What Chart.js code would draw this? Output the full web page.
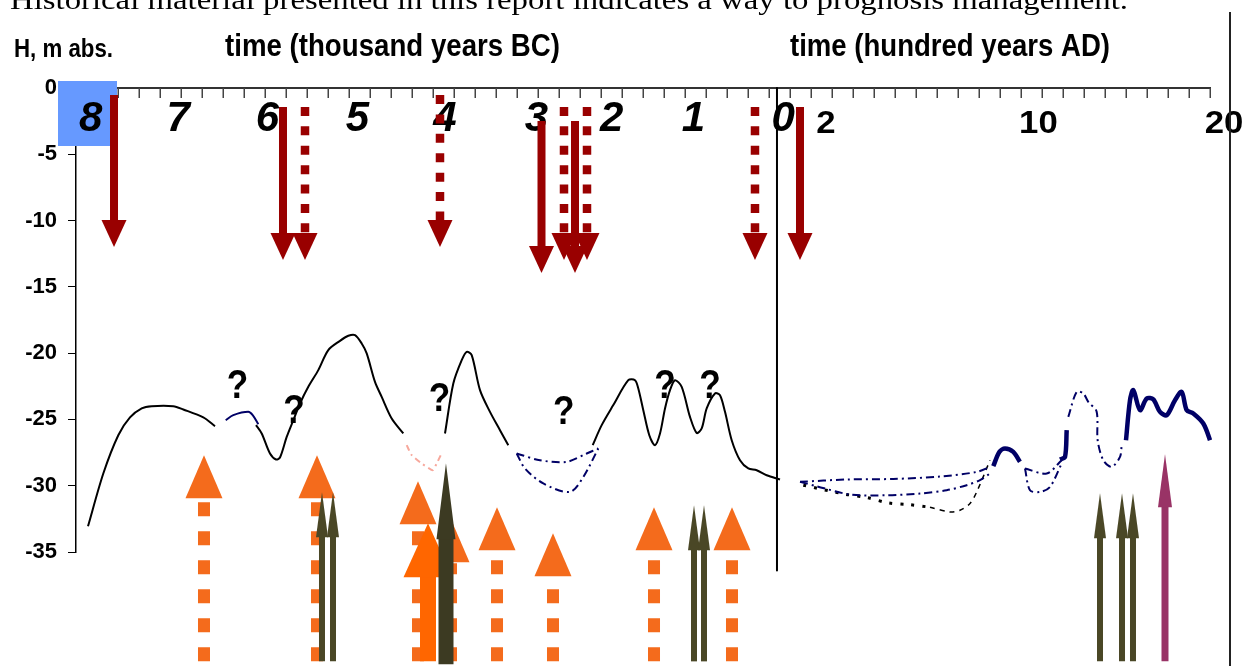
<!DOCTYPE html>
<html><head><meta charset="utf-8">
<script src="https://cdn.jsdelivr.net/npm/chart.js@4.4.0/dist/chart.umd.min.js"></script>
<style>html,body{margin:0;padding:0;background:#fff}#wrap{position:relative;width:1251px;height:666px}</style>
</head><body><div id="wrap"><canvas id="c"></canvas></div>
<script>
// ---------------- data ----------------
const bcLabels = ['8','7','6','5','4','3','2','1','0'];
const bcLabelX = [0.70,4.87,9.12,13.40,17.57,21.92,25.51,29.40,33.68];
const adLabels = ['2','10','20'];
const adLabelX = [35.71,45.83,54.67];
const xMin = 0, xMax = 54;
const yMin = -35, yMax = 0, yStep = 5;

// sea-level curves [x, H]
const blackA = [[0.571,-33.06],[1.300,-29.08],[2.014,-26.19],[2.571,-24.85],[3.129,-24.17],[3.605,-24.00],[4.633,-24.00],[5.110,-24.25],[6.062,-24.85],[6.619,-25.51]];
const navyA = [[7.129,-25.06],[7.490,-24.68],[8.205,-24.43],[8.414,-24.68],[8.681,-25.36]];
const blackB = [[8.571,-25.43],[8.843,-26.06],[9.238,-27.57],[9.524,-28.02],[9.714,-27.87],[10.033,-26.32],[10.348,-25.06],[10.667,-23.80],[11.062,-22.54],[11.538,-21.28],[12.014,-19.77],[12.571,-19.07],[12.967,-18.69],[13.286,-18.64],[13.605,-19.27],[13.843,-20.02],[14.238,-22.17],[14.557,-23.30],[15.033,-24.93],[15.586,-26.06]];
const pinkV = [[15.748,-26.94],[15.986,-27.70],[16.462,-28.32],[16.986,-28.83],[17.176,-28.32],[17.367,-27.70]];
const blackC = [[17.571,-26.06],[17.967,-22.29],[18.367,-20.53],[18.605,-19.90],[18.843,-20.15],[19.238,-22.79],[19.714,-24.43],[20.190,-25.81],[20.586,-26.94]];
const lensTop = [[20.986,-27.57],[22.095,-28.08],[23.367,-28.20],[24.319,-27.57],[24.871,-27.19]];
const lensBot = [[20.986,-27.57],[21.381,-28.70],[22.252,-29.83],[23.524,-30.47],[24.157,-29.34],[24.871,-27.19]];
const blackD = [[24.605,-26.94],[25.033,-25.43],[25.586,-23.92],[26.300,-22.04],[26.619,-22.04],[26.776,-22.66],[27.014,-24.30],[27.300,-26.19],[27.571,-26.94],[27.810,-26.06],[28.048,-24.17],[28.286,-22.79],[28.524,-22.04],[28.843,-22.54],[29.238,-24.81],[29.557,-26.02],[29.795,-25.68],[30.033,-24.17],[30.429,-23.04],[30.667,-23.17],[30.905,-24.43],[31.224,-26.57],[31.619,-28.08],[32.014,-28.70],[32.414,-28.83],[32.890,-29.21],[33.524,-29.53]];
const adUpper = [[34.476,-29.71],[36.700,-29.53],[38.919,-29.49],[41.143,-29.31],[42.890,-28.96],[43.524,-28.58]];
const adLower = [[34.476,-29.71],[35.271,-30.04],[36.857,-30.66],[38.605,-30.72],[40.190,-30.59],[41.462,-30.34],[42.414,-29.96],[43.048,-29.58],[43.524,-29.08]];
const adDots = [[34.633,-29.96],[36.619,-30.64],[37.652,-30.89],[38.681,-31.30],[39.633,-31.42],[40.667,-31.62]];
const adDash = [[40.667,-31.62],[41.619,-31.98],[42.095,-31.85],[42.571,-31.34],[42.890,-30.47],[43.524,-28.08]];
const navyThick1 = [[43.681,-28.53],[43.967,-27.45],[44.238,-27.19],[44.633,-27.45],[44.952,-28.20]];
const lens2Bot = [[45.190,-28.70],[45.429,-30.34],[45.905,-30.47],[46.381,-30.09],[46.938,-28.32]];
const lens2Top = [[45.190,-28.70],[46.224,-29.08],[46.938,-28.08]];
const navyThick2 = [[46.857,-28.02],[47.095,-27.83],[47.176,-25.81]];
const adPeak = [[47.252,-24.81],[47.652,-22.92],[47.967,-23.04],[48.205,-23.68],[48.60,-24.40],[48.65,-26.57],[48.919,-28.08],[49.319,-28.58],[49.714,-27.83],[49.795,-26.94]];
const navyThick3 = [[50.0,-26.57],[50.190,-23.55],[50.348,-22.79],[50.667,-24.30],[50.986,-23.42],[51.300,-23.49],[51.619,-24.43],[51.938,-24.68],[52.333,-23.55],[52.652,-22.92],[52.890,-24.30],[53.205,-24.55],[53.681,-25.31],[54.0,-26.57],[54.238,-27.83]];
const zeroLine = [[33.38,0],[33.38,-36.4]];

// question marks [x, H]
const qX = [7.69,10.38,17.31,23.23,28.05,30.19];
const qY = [-23.42,-25.28,-24.35,-25.36,-23.42,-23.42];

// down arrows (red)
const downSolidX = [1.81,9.857,22.167,23.762,34.476];
const downSolidTop = [-0.53,-1.43,-2.49,-2.49,-1.43];
const downSolidTip = [-12.0,-12.98,-13.96,-13.96,-12.98];
const downDotX = [10.905,17.333,23.238,24.333,32.333];
const downDotTop = [-1.43,-0.53,-1.43,-1.43,-1.43];
const downDotTip = [-12.98,-12.0,-12.98,-12.98,-12.98];
// up arrows
const upBottom = -43.25;
const orangeDotX = [6.095,11.476,16.286,17.857,20.048,22.714,27.524,31.238];
const orangeDotTip = [-27.70,-27.70,-29.66,-32.53,-31.62,-33.58,-31.62,-31.62];
const bigOrangeX = [16.762], bigOrangeTip = [-32.83];
const oliveX = [11.714,12.238,29.429,29.905,48.762,49.81,50.333];
const oliveTip = [-30.49,-30.49,-31.47,-31.47,-30.57,-30.57,-30.57];
const bigOliveX = [17.619], bigOliveTip = [-28.30], bigOliveBottom = -43.47;
const pinkX = [51.857], pinkTip = [-27.62];

// ---------------- helpers ----------------
const SANS = '"Liberation Sans", Arial, sans-serif';
function pts(a){return a.map(p=>({x:p[0],y:p[1]}));}
function ds(a,color,w,dash,extra){return Object.assign({data:pts(a),borderColor:color,borderWidth:w,borderDash:dash||[],pointRadius:0,tension:0.3,fill:false,clip:false,borderCapStyle:'butt',borderJoinStyle:'round'},extra||{});}
function txt(ctx,s,x,y,font,o){o=o||{};ctx.save();ctx.font=font;ctx.fillStyle=o.color||'#000';ctx.textBaseline='alphabetic';
  const w=ctx.measureText(s).width;const sx=o.width?o.width/w:(o.sx||1);ctx.translate(x,y);ctx.scale(sx,1);
  const al=o.align||'left';const dx=al==='center'?-w/2:al==='right'?-w:0;ctx.fillText(s,dx,0);ctx.restore();}
function tri(ctx,x,ya,yb,w,c){ctx.beginPath();ctx.moveTo(x,ya);ctx.lineTo(x-w/2,yb);ctx.lineTo(x+w/2,yb);ctx.closePath();ctx.fillStyle=c;ctx.fill();}
function shaft(ctx,x,y1,y2,w,c,dash,cap){ctx.save();ctx.beginPath();ctx.strokeStyle=c;ctx.lineWidth=w;ctx.setLineDash(dash||[]);ctx.lineCap=cap||'butt';ctx.moveTo(x,y1);ctx.lineTo(x,y2);ctx.stroke();ctx.restore();}

const decor = {
  id:'decor',
  beforeDatasetsDraw(chart){
    const ctx=chart.ctx, xs=chart.scales.x, ys=chart.scales.y;
    const y0=ys.getPixelForValue(0);
    ctx.save();
    txt(ctx,'Historical material presented in this report indicates a way to prognosis management.',10,9,'28px "Liberation Serif", "Times New Roman", serif',{width:1118});
    txt(ctx,'H, m abs.',14,57,'bold 26px '+SANS,{width:99});
    txt(ctx,'time (thousand years BC)',225,56,'bold 32px '+SANS,{width:335});
    txt(ctx,'time (hundred years AD)',790,56,'bold 32px '+SANS,{width:320});
    ctx.strokeStyle='#333';ctx.lineWidth=2;ctx.beginPath();
    ctx.moveTo(xs.getPixelForValue(xMin),y0);ctx.lineTo(xs.getPixelForValue(xMax)+1,y0);ctx.stroke();
    ctx.lineWidth=1.5;ctx.strokeStyle='#444';
    for(let v=xMin;v<=xMax;v++){const px=Math.round(xs.getPixelForValue(v))+0.25;ctx.beginPath();ctx.moveTo(px,y0);ctx.lineTo(px,y0+10);ctx.stroke();}
    ctx.fillStyle='#6699ff';ctx.fillRect(58,81,59,65);
    bcLabels.forEach((s,i)=>txt(ctx,s,xs.getPixelForValue(bcLabelX[i]),y0+43,'italic bold 42px '+SANS,{align:'center'}));
    adLabels.forEach((s,i)=>txt(ctx,s,xs.getPixelForValue(adLabelX[i]),y0+45,'bold 31px '+SANS,{align:'center',sx:1.12}));
    ctx.fillStyle='#222';ctx.fillRect(1229,12,2,654);
    ctx.restore();
  },
  afterDatasetsDraw(chart){
    const ctx=chart.ctx, xs=chart.scales.x, ys=chart.scales.y;
    const X=v=>xs.getPixelForValue(v), Y=v=>ys.getPixelForValue(v);
    ctx.save();
    const red='#990000';
    downSolidX.forEach((x,i)=>{const px=X(x),t=Y(downSolidTop[i]),tip=Y(downSolidTip[i]);
      shaft(ctx,px,t,tip-26,8,red);tri(ctx,px,tip,tip-27,25,red);});
    downDotX.forEach((x,i)=>{const px=X(x),t=Y(downDotTop[i]),tip=Y(downDotTip[i]);
      shaft(ctx,px,t,tip-27,8.5,red,[9,10.4]);tri(ctx,px,tip,tip-27,25,red);});
    const orange='#f46b1c';
    orangeDotX.forEach((x,i)=>{const px=X(x),tip=Y(orangeDotTip[i]),b=Y(upBottom);
      shaft(ctx,px,b,tip+44,12,orange,[14,15]);tri(ctx,px,tip,tip+43,37,orange);});
    bigOrangeX.forEach((x,i)=>{const px=X(x),tip=Y(bigOrangeTip[i]),b=Y(upBottom);
      shaft(ctx,px,b,tip+50,16,'#ff6600');tri(ctx,px,tip,tip+54,49,'#ff6600');});
    const olive='#4a4726';
    oliveX.forEach((x,i)=>{const px=X(x),tip=Y(oliveTip[i]),b=Y(upBottom);
      shaft(ctx,px,b,tip+40,6,olive);tri(ctx,px,tip,tip+45,12,olive);});
    bigOliveX.forEach((x,i)=>{const px=X(x),tip=Y(bigOliveTip[i]),b=Y(bigOliveBottom);
      shaft(ctx,px,b,tip+70,15,'#3c3a22');tri(ctx,px,tip,tip+76,19,'#3c3a22');});
    pinkX.forEach((x,i)=>{const px=X(x),tip=Y(pinkTip[i]),b=Y(upBottom);
      shaft(ctx,px,b,tip+50,7,'#993366');tri(ctx,px,tip,tip+53,14,'#993366');});
    qX.forEach((x,i)=>txt(ctx,'?',X(x),Y(qY[i]),'bold 40px '+SANS,{align:'center',sx:0.88}));
    ctx.restore();
  }
};

const navy='#000066';
const dashDot=[8,4,2,4];
new Chart(document.getElementById('c'),{
  type:'line',
  data:{datasets:[
    ds(blackA,'#000',2), ds(navyA,navy,2), ds(blackB,'#000',2), ds(pinkV,'#f7a89c',2,[6,4,2,4],{tension:0.15}),
    ds(blackC,'#000',2), ds(lensTop,navy,2,dashDot), ds(lensBot,navy,2,dashDot), ds(blackD,'#000',2),
    ds(adUpper,navy,2,dashDot), ds(adLower,navy,2,dashDot), ds(adDots,'#000',3,[3,8]), ds(adDash,'#000',1.5,[5,5]),
    ds(navyThick1,navy,4.5), ds(lens2Bot,navy,2,dashDot), ds(lens2Top,navy,2,dashDot), ds(navyThick2,navy,4.5),
    ds(adPeak,navy,2,dashDot), ds(navyThick3,navy,4.5), ds(zeroLine,'#000',2,[],{tension:0})
  ]},
  options:{
    responsive:true, maintainAspectRatio:false, animation:false, events:[],
    layout:{padding:{top:88,right:41,bottom:114,left:0}},
    plugins:{legend:{display:false},tooltip:{enabled:false}},
    scales:{
      x:{type:'linear',min:xMin,max:xMax,display:false},
      y:{type:'linear',min:yMin,max:yMax,position:'left',
         afterFit:s=>{s.width=76;},
         ticks:{stepSize:yStep,color:'#000',padding:11,font:{family:SANS,size:22,weight:'bold'}},
         grid:{drawOnChartArea:false,drawTicks:true,tickLength:8,color:'#000',lineWidth:1},
         border:{display:true,color:'#000',width:1.5}}
    }
  },
  plugins:[decor]
});
</script></body></html>
